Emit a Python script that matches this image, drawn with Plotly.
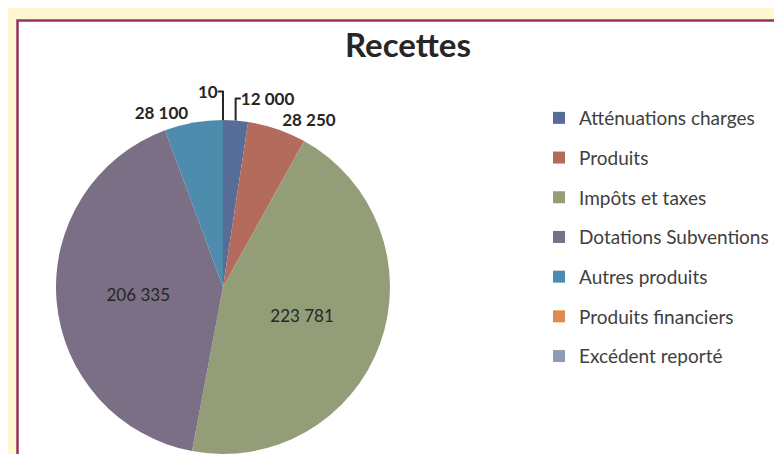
import plotly.graph_objects as go

labels = ["Atténuations charges", "Produits", "Impôts et taxes", "Dotations Subventions",
          "Autres produits", "Produits financiers", "Excédent reporté"]
values = [12000, 28250, 223781, 206335, 28100, 10, 0]
colors = ["#566d97", "#b36b5c", "#939d77", "#7b6f85", "#4d8cac", "#e08c4c", "#8f9bb9"]
text_pos = ["outside", "outside", "inside", "inside", "outside", "outside", "none"]

W, H = 782, 454
FONT = "Lato, Open Sans, sans-serif"
fig = go.Figure()

fig.add_trace(go.Pie(
    labels=labels, values=values, sort=False, direction="clockwise", rotation=0,
    marker=dict(colors=colors, line=dict(width=0)),
    textinfo="value", textposition=text_pos,
    insidetextfont=dict(family=FONT, size=17, color="#262626"),
    outsidetextfont=dict(family=FONT, size=17, color="#262626", weight="bold"),
    domain=dict(x=[47 / W, 383 / W], y=[8 / H, 1 - 112 / H]),
    showlegend=False, automargin=False,
))

# legend entries (one per category, same colours as the slices)
for lab, col in zip(labels, colors):
    fig.add_trace(go.Scatter(
        x=[None], y=[None], mode="markers", name=lab, legendgroup=lab,
        marker=dict(symbol="square", size=12, color=col),
    ))

fig.add_shape(type="rect", xref="paper", yref="paper", layer="below",
              x0=9.5 / W, x1=1.2, y0=-0.2, y1=1 - 12.5 / H,
              fillcolor="white", line=dict(color="#98335e", width=2.5))

fig.update_layout(
    width=W, height=H, margin=dict(l=0, r=0, t=0, b=0),
    paper_bgcolor="#fdf8d0", plot_bgcolor="rgba(0,0,0,0)",
    separators=", ",
    title=dict(text="<b>Recettes</b>", x=400 / W, xanchor="center", y=1 - 37 / H, yanchor="middle",
               font=dict(family=FONT, size=33, color="#262626")),
    xaxis=dict(visible=False), yaxis=dict(visible=False),
    legend=dict(x=531 / W, y=1 - 91 / H, xanchor="left", yanchor="top",
                font=dict(family=FONT, size=19, color="#404040"),
                traceorder="grouped", tracegroupgap=12, bgcolor="rgba(0,0,0,0)",
                itemwidth=30),
)

fig.write_html("out.html")
